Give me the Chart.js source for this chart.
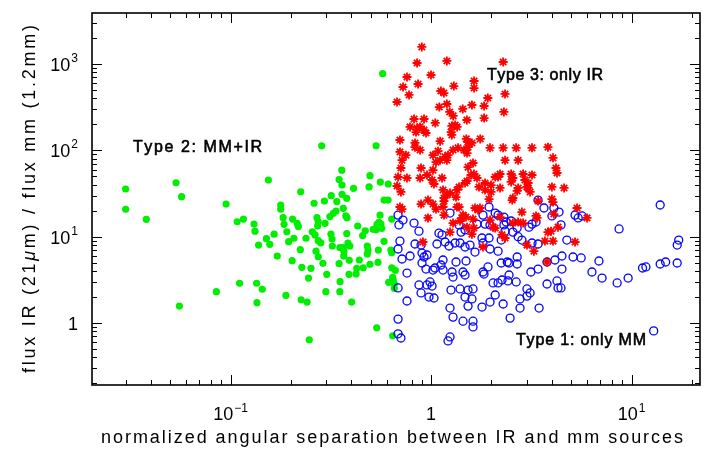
<!DOCTYPE html>
<html><head><meta charset="utf-8">
<script src="https://cdn.jsdelivr.net/npm/chart.js@4.4.1/dist/chart.umd.min.js"></script>
<style>html,body{margin:0;padding:0;background:#fff}#c{display:block}</style>
</head><body>
<canvas id="c" width="712" height="450"></canvas>
<script>
// ---- DATA ----
// Type 1: only MM (blue open circles)
const type1Sep = [0.685,0.725,0.692,0.823,0.871,0.700,0.685,0.717,0.786,0.832,0.892,0.902,0.923,0.955,0.902,0.944,1.023,1.047,0.759,0.685,0.871,0.955,1.012,0.989,0.892,0.759,0.977,1.035,0.685,0.685,0.708,1.071,1.175,1.230,1.396,1.478,1.565,1.657,1.817,1.096,1.135,1.244,1.380,1.412,1.478,1.318,1.696,1.817,1.860,1.947,1.970,1.796,1.947,2.09,2.16,2.31,2.37,2.31,2.51,2.34,2.56,2.69,2.72,2.24,2.84,3.08,3.19,3.34,3.42,3.66,4.10,4.35,4.01,3.19,3.42,4.45,4.76,5.23,5.42,5.67,1.148,1.122,1.148,1.273,1.288,1.444,1.478,1.333,1.495,1.970,2.16,1.924,1.817,1.838,2.24,2.40,2.45,2.69,2.69,2.04,2.16,2.26,2.42,2.66,2.45,1.258,1.396,1.530,1.620,1.478,1.601,1.530,1.244,1.288,1.444,1.620,1.620,1.796,1.970,2.09,2.29,2.48,2.78,3.01,3.12,3.46,2.78,3.01,3.15,3.42,3.79,4.15,4.50,5.11,5.61,6.88,6.35,7.13,8.48,9.62,11.35,11.8,13.9,14.8,16.9,17.2,16.9,13.9,8.67,4.50,3.79,4.25,4.30,4.45,12.9,1.244,1.216];
const type1Ratio = [17.8,15.6,13.7,14.4,11.6,8.9,7.2,5.52,5.98,8.23,8.0,6.47,5.82,6.14,4.96,4.22,4.11,4.34,3.79,2.55,2.76,2.76,2.68,2.99,2.23,1.80,2.0,1.95,1.11,0.75,0.67,8.23,8.68,7.8,8.45,7.6,8.0,6.64,8.45,11.0,10.5,18.8,13.7,11.3,12.0,8.45,14.0,17.8,14.0,22.1,13.7,9.66,9.66,18.8,17.8,16.9,14.8,13.7,15.2,11.6,11.3,12.6,10.0,9.15,9.15,12.9,14.0,14.8,26.6,21.5,21.5,19.3,17.4,8.45,8.23,13.7,9.15,17.8,16.5,17.4,5.37,4.70,4.11,3.90,3.41,3.90,3.60,5.09,5.23,7.2,6.8,4.46,3.90,3.69,4.96,5.09,4.96,4.83,5.82,2.91,2.91,3.15,3.07,2.99,3.60,2.41,2.48,2.41,2.48,2.0,1.90,1.57,1.49,1.17,1.05,1.05,0.90,1.53,1.75,2.11,1.66,1.14,1.49,2.48,2.23,1.49,1.90,2.05,3.90,4.22,5.09,5.37,5.98,5.82,5.67,5.23,3.90,3.32,2.91,3.32,4.34,4.46,4.83,5.09,4.96,9.15,8.0,23.3,12.3,4.22,2.83,3.07,2.55,2.55,0.81,0.69,0.62];
// Type 2: MM+IR (green filled circles)
const type2Sep = [0.030,0.030,0.038,0.0535,0.057,0.0556,0.085,0.095,0.108,0.116,0.111,0.135,0.1355,0.144,0.131,0.1325,0.138,0.151,0.157,0.1545,0.165,0.171,0.178,0.178,0.183,0.185,0.191,0.195,0.189,0.204,0.207,0.203,0.215,0.218,0.223,0.224,0.227,0.225,0.241,0.238,0.245,0.247,0.252,0.256,0.264,0.261,0.267,0.270,0.274,0.272,0.274,0.274,0.282,0.289,0.294,0.296,0.302,0.299,0.285,0.313,0.318,0.317,0.321,0.322,0.326,0.336,0.339,0.348,0.348,0.351,0.352,0.359,0.360,0.360,0.365,0.367,0.376,0.381,0.380,0.380,0.385,0.368,0.394,0.391,0.390,0.402,0.411,0.423,0.426,0.431,0.439,0.456,0.459,0.470,0.481,0.485,0.481,0.491,0.496,0.496,0.515,0.532,0.538,0.532,0.536,0.544,0.546,0.550,0.557,0.559,0.563,0.568,0.574,0.583,0.583,0.611,0.612,0.615,0.631,0.637,0.637,0.637,0.664,0.644,0.648,0.656,0.656,0.644,0.351,0.365];
const type2Ratio = [35.7,20.8,15.9,42.2,29.1,1.57,2.31,23.9,14.9,16.0,2.89,2.89,1.72,2.46,14.0,11.6,8.0,9.5,8.17,45.4,10.7,5.97,23.3,20.8,16.6,13.9,11.4,8.75,2.09,16.0,9.6,5.27,14.3,13.1,7.07,33.2,4.42,1.86,1.75,9.6,3.32,0.64,4.30,11.4,10.5,24.4,6.8,16.6,14.9,13.3,5.86,9.0,8.5,4.92,25.9,14.3,3.67,2.31,113,17.1,29.9,10.7,9.4,7.8,18.7,19.8,25.5,46,4.87,2.31,3.01,59,39.7,31,21.3,5.97,17.4,16.6,27.9,10.9,8.45,6.8,7.8,5.33,3.67,1.75,36.4,3.70,4.30,13.3,5.37,10.3,4.37,11.7,7.8,7.0,6.3,37.7,51,4.79,12.2,12.0,13.9,113,0.88,5.05,7.0,14.7,17.8,43,14.0,12.5,774,26.6,8.85,26.6,40.8,2.96,7.0,6.5,16.0,4.37,4.08,3.39,3.15,2.83,2.52,0.71,7.5,7.5];
// Type 3: only IR (red asterisks)
const type3Sep = [0.90,0.852,1.20,2.29,0.759,1.00,0.862,0.725,0.777,0.677,1.30,1.12,1.16,1.64,1.64,1.92,1.10,1.20,1.44,1.60,1.84,1.24,1.29,0.823,0.923,1.05,1.51,1.84,2.34,2.31,0.786,0.852,0.882,0.923,0.842,0.944,1.27,1.32,1.35,1.26,1.27,0.70,0.832,0.832,1.11,1.50,1.53,1.60,1.76,1.97,2.29,2.66,3.19,3.83,0.70,0.75,0.717,0.708,0.685,0.677,0.708,0.882,0.892,0.882,0.955,1.012,1.035,0.759,1.023,1.084,1.109,1.059,1.023,1.175,1.20,1.216,1.288,1.364,1.461,1.53,1.512,1.62,1.53,1.584,1.638,1.696,1.135,1.148,1.20,1.244,1.348,1.38,1.478,1.512,1.333,1.161,1.161,1.148,0.966,0.892,1.023,1.059,0.70,0.717,0.966,1.161,1.348,1.38,1.657,1.755,1.716,1.444,1.495,1.428,1.396,1.288,1.512,1.62,1.638,1.244,1.735,1.86,1.993,1.86,1.993,1.947,2.09,2.16,2.21,2.21,2.34,2.72,2.51,2.56,2.51,2.88,2.94,3.05,3.01,3.19,2.56,2.54,2.72,2.69,3.05,3.12,4.06,4.20,4.25,4.01,4.61,4.01,4.06,3.42,2.84,3.34,4.10,5.35,6.00,5.23,4.30,3.97,3.83,3.70,4.06,3.38,2.56,2.21,2.26,2.34,2.72,2.04,1.60,0.912,1.817,3.01,3.26,3.79,2.09,1.97,2.88];
const type3Ratio = [1580,1030,1087,1057,709,748,588,543,439,364,557,488,462,637,528,405,318,345,302,336,327,279,251,231,231,208,225,237,451,279,187,182,187,172,163,159,192,197,187,163,151,132,122,109,128,136,125,122,136,107,107,107,107,109,96,88,77,62.5,49.2,38.7,33.0,101,62.5,47.9,51.9,45.4,40.8,47.9,88,98,77,73,59,84,77,88,101,107,101,109,93,71.5,64,51.9,53.3,47.9,47.9,34.8,30.4,32.1,34.8,37.7,41.9,44.2,28.8,28.1,25.9,22.1,26.6,23.9,23.9,20.9,22.1,20.9,16.5,17.8,22.1,22.1,21.5,21.5,20.4,17.8,16.9,16.5,15.2,14.4,12.9,16.0,12.6,11.3,37.7,41.9,39.7,34.8,33.0,27.3,49.2,49.2,53.3,36.7,77,77,53.3,47.9,43.1,53.3,45.4,41.9,37.7,51.9,28.1,26.6,36.7,33.9,36.7,33.0,82,62.5,54.7,37.7,36.7,27.3,25.2,25.9,19.3,17.4,18.3,21.5,16.5,8.68,12.9,11.6,11.3,8.9,8.9,16.5,14.4,16.9,10.5,9.66,14.8,12.9,10.7,8.68,7.6,8.0,6.8,5.1,12.6,15.6,14.4];

// axis ticks / labels
const xMajorTicks = [0.1, 1, 10];
const xTickLabels = [['10','\u22121'], ['1',''], ['10','1']];
const yMajorTicks = [1, 10, 100, 1000];
const yTickLabels = [['1',''], ['10','1'], ['10','2'], ['10','3']];
const xTitle = 'normalized angular separation between IR and mm sources';
const yTitleParts = ['flux IR (21', '\u03bc', 'm) / flux mm (1.2mm)'];
const noteTexts = ['Type 2: MM+IR', 'Type 3: only IR', 'Type 1: only MM'];

function pts(xs, ys){ return xs.map((v,i)=>({x:v, y:ys[i]})); }

const FONT = '"Liberation Sans", Arial, sans-serif';

function drawSpaced(ctx, parts, x, y, target, align){
  let w = 0, n = 0;
  parts.forEach(p=>{ ctx.font = p.font; for (const ch of p.t){ w += ctx.measureText(ch).width; n++; } });
  const ls = target ? (target - w) / (n - 1) : 0;
  const total = target || w;
  let cx = align === 'center' ? x - total/2 : (align === 'right' ? x - total : x);
  ctx.textAlign = 'left';
  parts.forEach(p=>{ ctx.font = p.font; for (const ch of p.t){ ctx.fillText(ch, cx, y); if (p.stroke) ctx.strokeText(ch, cx, y); cx += ctx.measureText(ch).width + ls; } });
}

const framePlugin = {
  id: 'frame',
  afterDatasetsDraw(chart){
    const {ctx, chartArea:a, scales:{x, y}} = chart;
    ctx.save();
    ctx.strokeStyle = '#000'; ctx.fillStyle = '#000';
    // ticks
    ctx.lineWidth = 1;
    ctx.beginPath();
    for (let e = -2; e <= 1; e++) for (let k = 1; k <= 9; k++){
      const v = k * Math.pow(10, e);
      if (v <= x.min || v >= x.max) continue;
      const px = Math.round(x.getPixelForValue(v)) + 0.5;
      const L = k === 1 ? 10 : 5;
      ctx.moveTo(px, a.bottom); ctx.lineTo(px, a.bottom - L);
      ctx.moveTo(px, a.top); ctx.lineTo(px, a.top + L);
    }
    for (let e = -1; e <= 3; e++) for (let k = 1; k <= 9; k++){
      const v = k * Math.pow(10, e);
      if (v <= y.min || v >= y.max) continue;
      const py = Math.round(y.getPixelForValue(v)) + 0.5;
      const L = k === 1 ? 10 : 5;
      ctx.moveTo(a.left, py); ctx.lineTo(a.left + L, py);
      ctx.moveTo(a.right, py); ctx.lineTo(a.right - L, py);
    }
    ctx.stroke();
    ctx.lineWidth = 1.6;
    ctx.strokeRect(a.left, a.top, a.right - a.left, a.bottom - a.top);

    // tick labels
    ctx.textBaseline = 'alphabetic';
    xMajorTicks.forEach((v,i)=>{
      const [b, ex] = xTickLabels[i];
      const px = x.getPixelForValue(v);
      ctx.font = '18px ' + FONT; const wb = ctx.measureText(b).width;
      ctx.font = '12px ' + FONT; const we = ex ? ctx.measureText(ex).width + 1 : 0;
      const left = px - (wb + we)/2;
      ctx.font = '18px ' + FONT; ctx.textAlign = 'left'; ctx.fillText(b, left, a.bottom + 35);
      if (ex){ ctx.font = '12px ' + FONT; ctx.fillText(ex, left + wb + 1, a.bottom + 27); }
    });
    yMajorTicks.forEach((v,i)=>{
      const [b, ex] = yTickLabels[i];
      const py = y.getPixelForValue(v);
      const right = a.left - 14;
      ctx.font = '12px ' + FONT; const we = ex ? ctx.measureText(ex).width + 1 : 0;
      ctx.font = '18px ' + FONT; const wb = ctx.measureText(b).width;
      ctx.textAlign = 'left';
      ctx.fillText(b, right - we - wb, py + 7);
      if (ex){ ctx.font = '12px ' + FONT; ctx.fillText(ex, right - we + 1, py - 2); }
    });

    // axis titles
    drawSpaced(ctx, [{t:xTitle, font:'18px ' + FONT}], 101, 443, 582, 'left');
    ctx.save();
    ctx.translate(35, 199);
    ctx.rotate(-Math.PI/2);
    drawSpaced(ctx, [
      {t:yTitleParts[0], font:'18px ' + FONT},
      {t:yTitleParts[1], font:'italic 18px ' + FONT},
      {t:yTitleParts[2], font:'18px ' + FONT}], 0, 0, 348, 'center');
    ctx.restore();

    // annotations
    ctx.lineWidth = 0.6;
    drawSpaced(ctx, [{t:noteTexts[0], font:'16px ' + FONT, stroke:true}], 133, 152, 129, 'left');
    drawSpaced(ctx, [{t:noteTexts[1], font:'16px ' + FONT, stroke:true}], 487, 80, 116, 'left');
    drawSpaced(ctx, [{t:noteTexts[2], font:'16px ' + FONT, stroke:true}], 516, 345, 130, 'left');
    ctx.restore();
  }
};

new Chart(document.getElementById('c'), {
  type: 'scatter',
  data: {
    datasets: [
      { label: 'Type 3: only IR', data: pts(type3Sep, type3Ratio), pointStyle: 'star', pointRadius: 4.5,
        borderColor: '#ff0000', backgroundColor: '#ff0000', borderWidth: 1.8 },
      { label: 'Type 1: only MM', data: pts(type1Sep, type1Ratio), pointStyle: 'circle', pointRadius: 4,
        borderColor: '#0000ff', backgroundColor: 'rgba(0,0,0,0)', borderWidth: 1.3 },
      { label: 'Type 2: MM+IR', data: pts(type2Sep, type2Ratio), pointStyle: 'circle', pointRadius: 3.6,
        borderColor: '#00ee00', backgroundColor: '#00ee00', borderWidth: 0 }
    ]
  },
  options: {
    responsive: false, animation: false, devicePixelRatio: 1,
    layout: { padding: { left: 92, right: 12, top: 13, bottom: 65 } },
    plugins: { legend: { display: false }, tooltip: { enabled: false } },
    scales: {
      x: { type: 'logarithmic', min: 0.02038, max: 21.96, display: false },
      y: { type: 'logarithmic', min: 0.1913, max: 3909, display: false }
    }
  },
  plugins: [framePlugin]
});
</script>
</body></html>
